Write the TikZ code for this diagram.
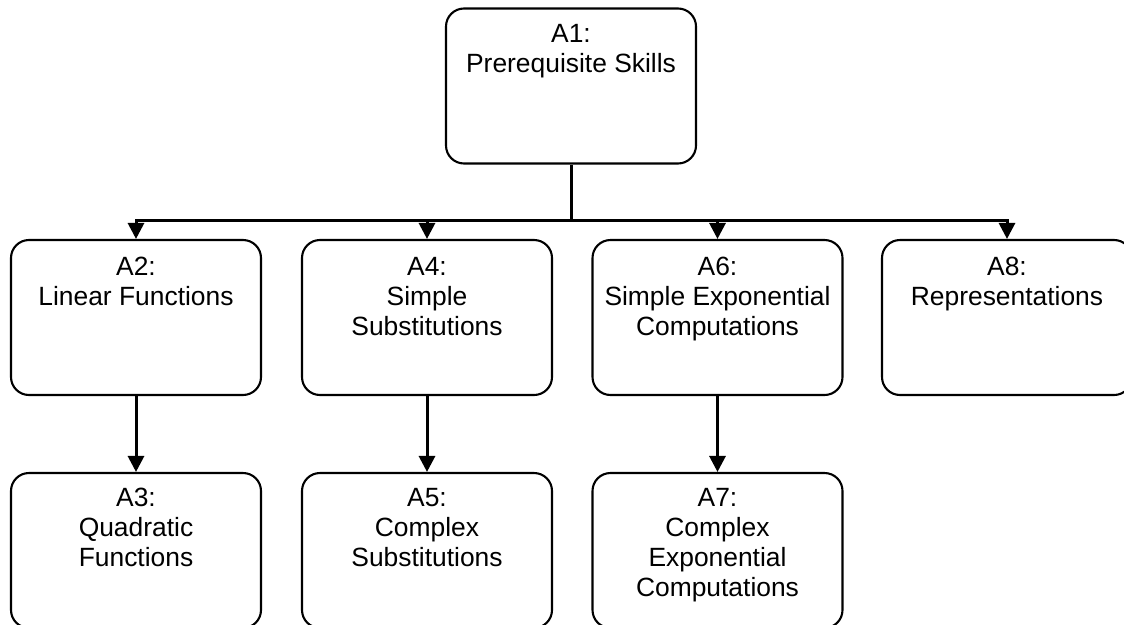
\documentclass[tikz,border=0pt]{standalone}
\usepackage{fontspec}
\setmainfont{Liberation Sans}
\usetikzlibrary{arrows.meta}
\begin{document}
\begin{tikzpicture}[x=1pt,y=-1pt,
  box/.style={draw=black, line width=2.1pt, rounded corners=18pt, minimum width=250pt, minimum height=155pt, inner sep=0pt, fill=white},
  txt/.style={anchor=north, align=center, inner sep=0pt, font=\fontsize{26.4}{30}\selectfont},
  arr/.style={draw=black, line width=3pt, -{Triangle[width=16pt,length=16pt]}},
  conn/.style={draw=black, line width=3pt}]
\useasboundingbox[fill=white] (0,0) rectangle (1124,624);
\clip (0,0) rectangle (1124,624);
% boxes
\node[box] (a1) at (571,86) {};
\node[box] (a2) at (136,317.5) {};
\node[box] (a4) at (427,317.5) {};
\node[box] (a6) at (717.5,317.5) {};
\node[box] (a8) at (1007,317.5) {};
\node[box] (a3) at (136,550.5) {};
\node[box] (a5) at (427,550.5) {};
\node[box] (a7) at (717.5,550.5) {};
% texts
\node[txt] (t1) at ([yshift=-17pt]a1.north) {A1:\\Prerequisite Skills};
\node[txt] (t2) at ([yshift=-18pt]a2.north) {A2:\\Linear Functions};
\node[txt] (t4) at ([yshift=-18pt]a4.north) {A4:\\Simple\\Substitutions};
\node[txt] (t6) at ([yshift=-18pt]a6.north) {A6:\\Simple Exponential\\Computations};
\node[txt] (t8) at ([yshift=-18pt]a8.north) {A8:\\Representations};
\node[txt] (t3) at ([yshift=-16pt]a3.north) {A3:\\Quadratic\\Functions};
\node[txt] (t5) at ([yshift=-16pt]a5.north) {A5:\\Complex\\Substitutions};
\node[txt] (t7) at ([yshift=-16pt]a7.north) {A7:\\Complex\\Exponential\\Computations};
% connectors
\coordinate (bus) at (571,220);
\draw[conn] (a1.south) -- (bus);
\draw[arr] (bus) -| (a2.north);
\draw[arr] (bus) -| (a4.north);
\draw[arr] (bus) -| (a6.north);
\draw[arr] (bus) -| (a8.north);
\draw[arr] (a2.south) -- (a3.north);
\draw[arr] (a4.south) -- (a5.north);
\draw[arr] (a6.south) -- (a7.north);
\end{tikzpicture}
\end{document}
